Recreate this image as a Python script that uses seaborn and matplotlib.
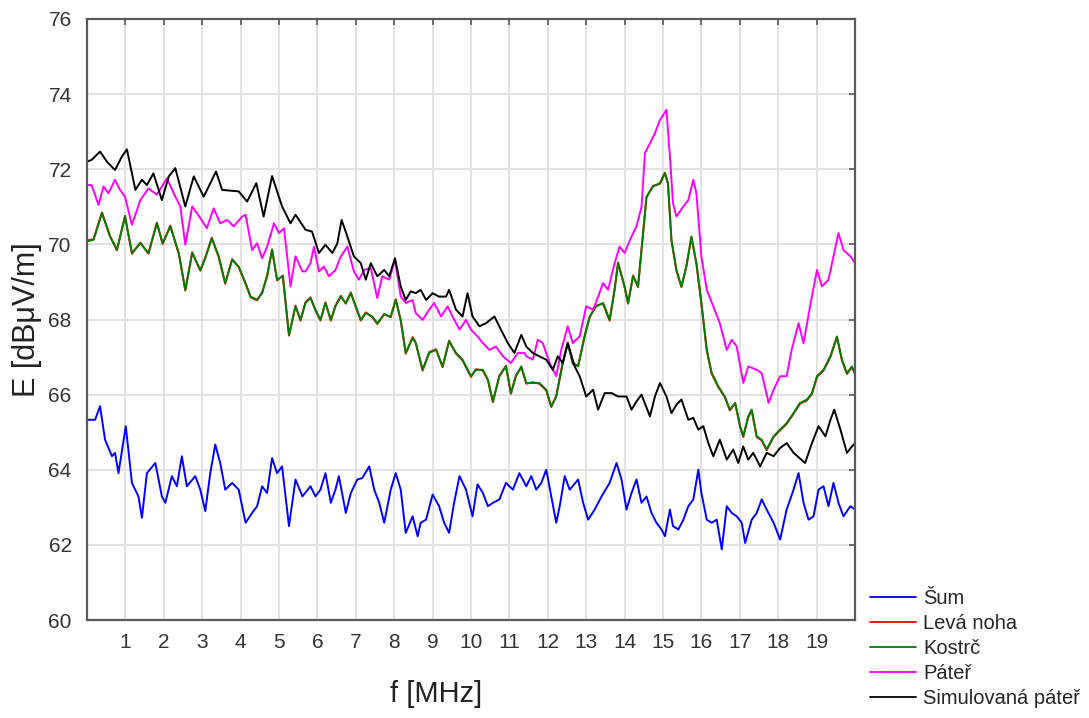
import pandas as pd
import matplotlib
matplotlib.use("Agg")
import matplotlib.pyplot as plt
import seaborn as sns

# values (frequency in MHz, field strength in dBuV/m)
sum_f = [0.0, 0.21, 0.34, 0.47, 0.65, 0.73, 0.82, 1.01, 1.17, 1.34, 1.43, 1.56, 1.78, 1.95, 2.04, 2.21, 2.34, 2.47, 2.60, 2.82,
         2.95, 3.08, 3.21, 3.34, 3.47, 3.60, 3.78, 3.95, 4.13, 4.30, 4.43, 4.56, 4.69, 4.82, 4.95, 5.08, 5.26, 5.43, 5.61, 5.82,
         5.95, 6.08, 6.21, 6.35, 6.47, 6.56, 6.74, 6.87, 7.04, 7.17, 7.35, 7.48, 7.61, 7.74, 7.91, 8.04, 8.17, 8.30, 8.48, 8.61,
         8.69, 8.83, 9.00, 9.17, 9.30, 9.43, 9.56, 9.70, 9.87, 10.04, 10.17, 10.31, 10.44, 10.57, 10.74, 10.91, 11.09, 11.26, 11.44,
         11.57, 11.70, 11.83, 11.96, 12.09, 12.22, 12.31, 12.44, 12.57, 12.79, 12.92, 13.05, 13.22, 13.40, 13.61, 13.79, 13.92, 14.05, 14.18, 14.31,
         14.44, 14.57, 14.70, 14.83, 14.96, 15.05, 15.18, 15.26, 15.40, 15.53, 15.66, 15.79, 15.92, 16.00, 16.14, 16.27, 16.40, 16.53, 16.66, 16.79,
         16.92, 17.05, 17.14, 17.31, 17.44, 17.57, 17.70, 17.88, 18.05, 18.22, 18.40, 18.53, 18.66, 18.79, 18.92, 19.05, 19.18, 19.31, 19.44, 19.57,
         19.70, 19.88, 20.0]
sum_e = [65.33, 65.33, 65.69, 64.80, 64.36, 64.45, 63.91, 65.16, 63.65, 63.29, 62.72, 63.91, 64.18, 63.29, 63.12, 63.83, 63.56, 64.36, 63.56, 63.83,
         63.47, 62.90, 63.91, 64.67, 64.18, 63.47, 63.65, 63.47, 62.59, 62.85, 63.03, 63.56, 63.38, 64.31, 63.91, 64.09, 62.50, 63.74, 63.29, 63.56,
         63.29, 63.47, 63.91, 63.12, 63.47, 63.83, 62.85, 63.38, 63.74, 63.78, 64.09, 63.47, 63.12, 62.59, 63.47, 63.91, 63.47, 62.32, 62.76, 62.23,
         62.59, 62.67, 63.34, 63.03, 62.59, 62.32, 63.12, 63.83, 63.47, 62.76, 63.61, 63.38, 63.03, 63.12, 63.21, 63.65, 63.47, 63.91, 63.56,
         63.83, 63.47, 63.65, 64.00, 63.29, 62.59, 63.03, 63.83, 63.47, 63.74, 63.12, 62.67, 62.94, 63.29, 63.65, 64.18, 63.74, 62.94, 63.38, 63.74,
         63.12, 63.29, 62.85, 62.59, 62.41, 62.23, 62.94, 62.50, 62.41, 62.67, 63.03, 63.21, 64.00, 63.38, 62.67, 62.59, 62.67, 61.88, 63.03, 62.85,
         62.76, 62.59, 62.05, 62.67, 62.85, 63.21, 62.94, 62.59, 62.14, 62.94, 63.47, 63.91, 63.12, 62.67, 62.76, 63.47, 63.56, 63.03, 63.65, 63.12,
         62.76, 63.03, 62.94]

kostrc_f = [0.0, 0.17, 0.39, 0.60, 0.78, 0.99, 1.17, 1.39, 1.60, 1.82, 1.97, 2.17, 2.39, 2.56, 2.74, 2.95,
            3.08, 3.25, 3.43, 3.60, 3.78, 3.95, 4.13, 4.26, 4.43, 4.56, 4.69, 4.82, 4.95, 5.10, 5.26, 5.43, 5.56, 5.69,
            5.82, 5.95, 6.08, 6.21, 6.35, 6.47, 6.61, 6.74, 6.87, 7.00, 7.13, 7.26, 7.43, 7.56, 7.74, 7.91, 8.04, 8.17, 8.30, 8.48,
            8.56, 8.74, 8.91, 9.09, 9.26, 9.43, 9.61, 9.78, 10.00, 10.13, 10.31, 10.44, 10.57, 10.74, 10.91, 11.04, 11.17, 11.31, 11.44,
            11.61, 11.78, 11.96, 12.09, 12.22, 12.39, 12.52, 12.65, 12.79, 12.96, 13.09, 13.26, 13.44, 13.61, 13.74, 13.83, 14.00, 14.09, 14.22, 14.35, 14.44,
            14.57, 14.74, 14.92, 15.05, 15.13, 15.22, 15.35, 15.48, 15.61, 15.74, 15.87, 16.00, 16.14, 16.27, 16.44, 16.61, 16.74, 16.88, 17.01, 17.09, 17.22,
            17.31, 17.44, 17.57, 17.70, 17.88, 18.05, 18.22, 18.40, 18.57, 18.75, 18.88, 19.01, 19.18, 19.36, 19.53, 19.66, 19.79, 19.92, 20.0]
kostrc_e = [70.08, 70.12, 70.83, 70.21, 69.86, 70.74, 69.77, 70.03, 69.77, 70.56, 70.03, 70.48, 69.77, 68.79, 69.77, 69.32,
            69.63, 70.16, 69.68, 68.97, 69.59, 69.41, 68.97, 68.61, 68.53, 68.70, 69.15, 69.85, 69.06, 69.15, 67.59, 68.35, 67.99, 68.44,
            68.57, 68.26, 67.99, 68.44, 67.99, 68.35, 68.61, 68.44, 68.70, 68.35, 67.99, 68.17, 68.08, 67.90, 68.13, 68.08, 68.52, 67.99, 67.11, 67.51,
            67.37, 66.66, 67.11, 67.19, 66.75, 67.42, 67.11, 66.93, 66.49, 66.66, 66.66, 66.40, 65.82, 66.49, 66.75, 66.04, 66.49, 66.75, 66.31,
            66.31, 66.31, 66.13, 65.69, 65.95, 66.84, 67.37, 66.84, 66.75, 67.55, 68.08, 68.35, 68.44, 67.99, 68.79, 69.50, 68.88, 68.44, 69.15, 68.88, 69.85,
            71.27, 71.54, 71.63, 71.89, 71.63, 70.12, 69.32, 68.88, 69.41, 70.21, 69.50, 68.44, 67.19, 66.57, 66.22, 65.95, 65.60, 65.78, 65.16, 64.89, 65.42,
            65.60, 64.89, 64.80, 64.54, 64.89, 65.07, 65.24, 65.51, 65.78, 65.87, 66.04, 66.49, 66.66, 67.02, 67.55, 66.93, 66.57, 66.75, 66.57]
leva_e = [70.10, 70.14, 70.85, 70.22, 69.84, 70.76, 69.75, 70.05, 69.75, 70.58, 70.01, 70.50, 69.75, 68.77, 69.79, 69.30,
          69.65, 70.18, 69.66, 68.95, 69.61, 69.39, 68.95, 68.59, 68.51, 68.72, 69.17, 69.87, 69.04, 69.17, 67.57, 68.37, 67.97, 68.46,
          68.59, 68.24, 67.97, 68.46, 67.97, 68.37, 68.63, 68.42, 68.72, 68.33, 67.97, 68.19, 68.06, 67.88, 68.15, 68.06, 68.54, 67.97, 67.09, 67.53,
          67.39, 66.64, 67.13, 67.21, 66.73, 67.44, 67.09, 66.91, 66.47, 66.68, 66.64, 66.38, 65.80, 66.51, 66.77, 66.02, 66.51, 66.73, 66.29,
          66.33, 66.29, 66.11, 65.67, 65.97, 66.86, 67.39, 66.82, 66.77, 67.57, 68.06, 68.37, 68.42, 67.97, 68.81, 69.52, 68.86, 68.42, 69.17, 68.86, 69.83,
          71.25, 71.56, 71.61, 71.91, 71.61, 70.10, 69.30, 68.86, 69.43, 70.19, 69.48, 68.42, 67.17, 66.55, 66.20, 65.93, 65.58, 65.76, 65.14, 64.87, 65.40,
          65.58, 64.87, 64.78, 64.52, 64.87, 65.05, 65.22, 65.49, 65.76, 65.85, 66.02, 66.47, 66.64, 67.00, 67.53, 66.91, 66.55, 66.73, 66.55]

pater_f = [0.0, 0.12, 0.30, 0.43, 0.56, 0.73, 0.86, 0.99, 1.17, 1.39, 1.60, 1.82, 2.08, 2.30, 2.43, 2.56, 2.74,
           2.95, 3.12, 3.30, 3.47, 3.65, 3.82, 4.04, 4.13, 4.30, 4.43, 4.56, 4.69, 4.87, 5.00, 5.13, 5.30, 5.43, 5.61,
           5.69, 5.82, 5.91, 6.04, 6.17, 6.30, 6.47, 6.61, 6.78, 6.95, 7.08, 7.22, 7.39, 7.56, 7.69, 7.87, 8.02, 8.17, 8.30, 8.48,
           8.56, 8.74, 8.91, 9.04, 9.22, 9.39, 9.52, 9.70, 9.87, 10.00, 10.17, 10.31, 10.48, 10.65, 10.83, 11.04, 11.22, 11.39,
           11.44, 11.61, 11.74, 11.87, 12.05, 12.22, 12.35, 12.52, 12.65, 12.83, 13.00, 13.18, 13.31, 13.44, 13.57, 13.74, 13.87, 14.00, 14.14, 14.31, 14.44,
           14.53, 14.66, 14.79, 14.92, 15.09, 15.18, 15.26, 15.35, 15.53, 15.66, 15.79, 15.87, 16.00, 16.14, 16.31, 16.48, 16.66, 16.79, 16.92, 17.09, 17.22,
           17.44, 17.57, 17.75, 17.88, 18.05, 18.22, 18.35, 18.53, 18.66, 18.83, 19.01, 19.14, 19.31, 19.44, 19.57, 19.70, 19.88, 20.0]
pater_e = [71.58, 71.58, 71.05, 71.54, 71.36, 71.72, 71.45, 71.27, 70.52, 71.18, 71.49, 71.32, 71.76, 71.27, 71.01, 69.99, 71.01,
           70.70, 70.43, 70.96, 70.56, 70.65, 70.48, 70.74, 70.79, 69.85, 70.03, 69.63, 69.94, 70.56, 70.30, 70.43, 68.88, 69.68, 69.28,
           69.28, 69.50, 69.94, 69.28, 69.41, 69.15, 69.32, 69.68, 69.94, 69.28, 69.06, 69.32, 69.37, 68.57, 69.15, 69.06, 69.59, 68.61, 68.44, 68.52,
           68.17, 67.99, 68.26, 68.44, 68.08, 68.35, 68.08, 67.73, 67.99, 67.73, 67.55, 67.37, 67.19, 67.28, 67.02, 66.84, 67.11, 67.11,
           67.02, 66.93, 67.46, 67.37, 66.84, 66.49, 67.19, 67.82, 67.37, 67.55, 68.35, 68.26, 68.61, 68.97, 68.79, 69.50, 69.94, 69.77, 70.12, 70.48, 71.00,
           72.43, 72.69, 72.96, 73.31, 73.58, 72.34, 71.10, 70.74, 71.01, 71.18, 71.72, 71.36, 69.68, 68.79, 68.35, 67.90, 67.19, 67.46, 67.28, 66.31, 66.75,
           66.66, 66.57, 65.78, 66.13, 66.49, 66.49, 67.19, 67.90, 67.37, 68.35, 69.32, 68.88, 69.06, 69.68, 70.30, 69.85, 69.68, 69.50]

sim_f = [0.0, 0.12, 0.34, 0.52, 0.73, 0.91, 1.04, 1.26, 1.43, 1.56, 1.73, 1.95, 2.13, 2.30, 2.56, 2.78,
         3.04, 3.36, 3.52, 3.95, 4.17, 4.41, 4.60, 4.82, 5.08, 5.30, 5.43, 5.69,
         5.86, 6.04, 6.21, 6.39, 6.52, 6.63, 6.78, 6.95, 7.13, 7.26, 7.39, 7.56, 7.74, 7.87, 8.02, 8.17, 8.30, 8.43, 8.56,
         8.69, 8.83, 9.00, 9.17, 9.35, 9.43, 9.61, 9.78, 9.91, 10.04, 10.22, 10.39, 10.61, 10.78, 10.96, 11.13, 11.31, 11.44,
         11.61, 11.78, 11.96, 12.13, 12.26, 12.39, 12.52, 12.70, 12.83, 13.00, 13.18, 13.31, 13.48, 13.66, 13.83, 14.05, 14.18, 14.31,
         14.44, 14.66, 14.79, 14.92, 15.09, 15.22, 15.35, 15.48, 15.66, 15.79, 15.92, 16.05, 16.18, 16.31, 16.48, 16.66, 16.83, 16.96, 17.09, 17.22,
         17.35, 17.53, 17.70, 17.88, 18.05, 18.22, 18.40, 18.70, 18.88, 19.05, 19.23, 19.36, 19.46, 19.62, 19.79, 19.92, 20.0]
sim_e = [72.20, 72.25, 72.47, 72.20, 71.98, 72.34, 72.53, 71.45, 71.72, 71.58, 71.89, 71.18, 71.81, 72.03, 71.01, 71.81,
         71.27, 71.94, 71.45, 71.41, 71.14, 71.63, 70.74, 71.82, 71.01, 70.56, 70.79, 70.39,
         70.34, 69.77, 69.99, 69.77, 70.03, 70.65, 70.21, 69.68, 69.50, 69.06, 69.50, 69.15, 69.32, 69.15, 69.63, 68.88, 68.52, 68.75, 68.70,
         68.79, 68.52, 68.70, 68.61, 68.61, 68.79, 68.26, 68.08, 68.70, 68.08, 67.82, 67.90, 68.08, 67.73, 67.37, 67.11, 67.59, 67.28,
         67.11, 67.02, 66.93, 66.66, 67.02, 66.84, 67.37, 66.75, 66.49, 65.95, 66.13, 65.60, 66.04, 66.04, 65.95, 65.95, 65.60, 65.82,
         66.00, 65.42, 65.95, 66.31, 65.95, 65.51, 65.73, 65.87, 65.33, 65.38, 65.07, 65.16, 64.71, 64.36, 64.80, 64.27, 64.54, 64.18, 64.62, 64.27,
         64.45, 64.09, 64.45, 64.36, 64.58, 64.71, 64.45, 64.18, 64.71, 65.16, 64.89, 65.33, 65.60, 65.07, 64.45, 64.62, 64.71]

labels = ["Šum", "Levá noha", "Kostrč", "Páteř", "Simulovaná páteř"]
colors = ["#0000ff", "#ff0000", "#008000", "#ff00ff", "#000000"]
x_ticks = list(range(1, 20))
y_ticks = list(range(60, 77, 2))

df = pd.concat([
    pd.DataFrame({"f": sum_f, "E": sum_e, "series": labels[0]}),
    pd.DataFrame({"f": kostrc_f, "E": leva_e, "series": labels[1]}),
    pd.DataFrame({"f": kostrc_f, "E": kostrc_e, "series": labels[2]}),
    pd.DataFrame({"f": pater_f, "E": pater_e, "series": labels[3]}),
    pd.DataFrame({"f": sim_f, "E": sim_e, "series": labels[4]}),
], ignore_index=True)

sns.set_style("white")
plt.rcParams["font.family"] = ["Liberation Sans", "DejaVu Sans"]

fig = plt.figure(figsize=(10.89, 7.18), dpi=100)
ax = fig.add_axes([87 / 1089, 98 / 718, 768 / 1089, 601 / 718])

sns.lineplot(data=df, x="f", y="E", hue="series", hue_order=labels,
             palette=dict(zip(labels, colors)), estimator=None, sort=False,
             linewidth=1.4, ax=ax, legend=False)

ax.set_xlim(0, 20)
ax.set_ylim(60, 76)
ax.set_xticks(x_ticks)
ax.set_yticks(y_ticks)
ax.grid(True, color="#e2e2e2", linewidth=1.4)
ax.set_axisbelow(True)
ax.tick_params(axis="both", direction="in", length=4, width=1.2, color="#555555",
               labelsize=15, labelcolor="#333333", top=True, right=True)
ax.tick_params(axis="x", pad=9)
ax.tick_params(axis="y", pad=11)
for s in ax.spines.values():
    s.set_color("#5a5a5a")
    s.set_linewidth(1.6)

ax.set_xlabel("f [MHz]", fontsize=21, color="#222222")
ax.xaxis.set_label_coords(0.455, -0.1)
ax.set_ylabel("E [dBμV/m]", fontsize=22, color="#222222")
ax.yaxis.set_label_coords(-0.058, 0.5)

handles = [plt.Line2D([], [], color=c, linewidth=1.3) for c in colors]
fig.legend(handles, labels, loc="lower left", bbox_to_anchor=(862 / 1089, 2 / 718),
           frameon=False, fontsize=14.5, handlelength=2.3, handletextpad=0.35,
           labelspacing=0.3, borderaxespad=0)

fig.savefig("out.png", dpi=100)
